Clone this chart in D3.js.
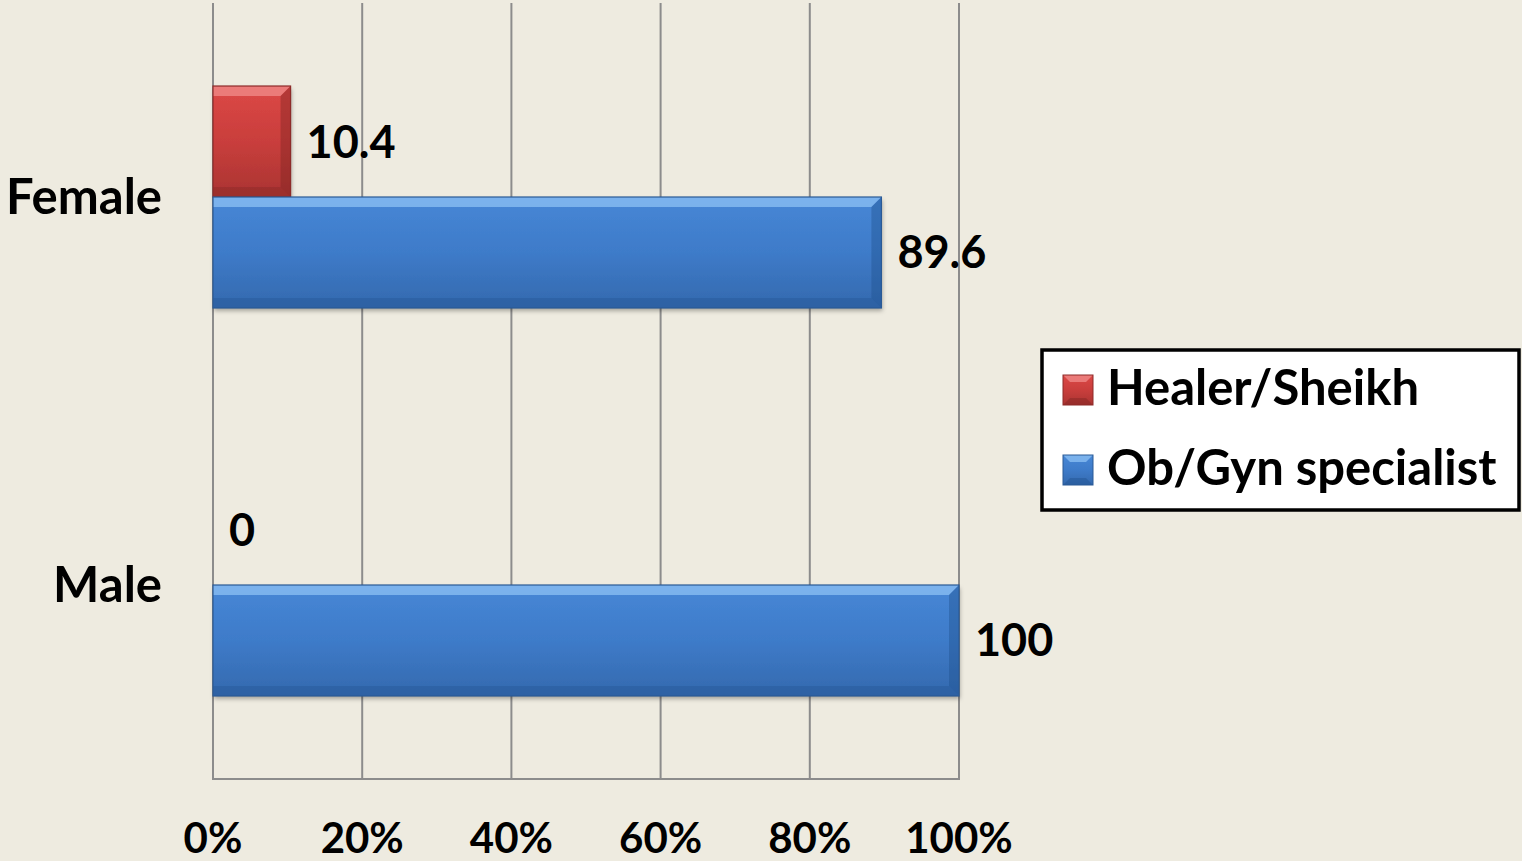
<!DOCTYPE html>
<html><head><meta charset="utf-8">
<script src="https://cdn.jsdelivr.net/npm/d3@7"></script>
<style>
html,body{margin:0;padding:0;background:#eeebe0;}
svg{display:block;}
text{font-family:Lato,"Open Sans",sans-serif;font-weight:bold;fill:#000;}
</style></head><body>
<svg id="c" width="1522" height="861"></svg>
<script>
const categories = ["Female", "Male"];
const seriesNames = ["Healer/Sheikh", "Ob/Gyn specialist"];
const healer = [10.4, 0];
const obgyn = [89.6, 100];
const xTicks = [0, 20, 40, 60, 80, 100];
const tickLabels = ["0%", "20%", "40%", "60%", "80%", "100%"];

const svg = d3.select("#c");
const W = 1522, H = 861;
const m = {left: 213, right: 563, top: 3, bottom: 82};
const x = d3.scaleLinear().domain([0, 100]).range([m.left, W - m.right]);
const y = d3.scaleBand().domain(categories).range([m.top, H - m.bottom]).paddingInner(0).paddingOuter(0);
const inner = d3.scaleBand().domain(seriesNames).range([0, y.bandwidth()]).paddingInner(0).paddingOuter(0.748);

const defs = svg.append("defs");
function grad(id, stops) {
  const g = defs.append("linearGradient").attr("id", id).attr("x1", 0).attr("y1", 0).attr("x2", 0).attr("y2", 1);
  stops.forEach(s => g.append("stop").attr("offset", s[0]).attr("stop-color", s[1]));
}
grad("gRed", [[0, "#dc4846"], [0.5, "#c93e3c"], [1, "#aa3432"]]);
grad("gBlue", [[0, "#4787d6"], [0.5, "#3e7bc9"], [1, "#3469ae"]]);
const f = defs.append("filter").attr("id", "sh").attr("x", "-5%").attr("y", "-10%").attr("width", "115%").attr("height", "130%");
f.append("feDropShadow").attr("dx", 1).attr("dy", 3).attr("stdDeviation", 2).attr("flood-color", "#000").attr("flood-opacity", 0.3);

const colors = {
  "Healer/Sheikh": {fill: "url(#gRed)", top: "#f29290", dark: "#7a2220", edge: "#8e2b29"},
  "Ob/Gyn specialist": {fill: "url(#gBlue)", top: "#92c4f7", dark: "#1f4f8c", edge: "#2a5a96"}
};

// gridlines
const gy0 = m.top, gy1 = H - m.bottom;
svg.append("g").selectAll("line").data(xTicks).join("line")
  .attr("x1", d => x(d)).attr("x2", d => x(d))
  .attr("y1", gy0).attr("y2", gy1)
  .attr("stroke", "#8c8c8c").attr("stroke-width", 2);
svg.append("line").attr("x1", x(0) - 1).attr("x2", x(100) + 1).attr("y1", gy1).attr("y2", gy1)
  .attr("stroke", "#8c8c8c").attr("stroke-width", 2);

// x axis labels
svg.append("g").selectAll("text").data(xTicks).join("text")
  .attr("x", d => x(d)).attr("y", 853)
  .attr("text-anchor", "middle").attr("font-size", 42)
  .text((d, i) => tickLabels[i]);

// category labels
svg.append("g").selectAll("text").data(categories).join("text")
  .attr("x", 162).attr("y", d => y(d) + y.bandwidth() / 2 + 17)
  .attr("text-anchor", "end").attr("font-size", 49)
  .text(d => d);

const rows = [];
categories.forEach((c, i) => {
  rows.push({cat: c, s: seriesNames[0], v: healer[i]});
  rows.push({cat: c, s: seriesNames[1], v: obgyn[i]});
});

const bars = svg.append("g");
rows.forEach(r => {
  if (r.v <= 0) return;
  const bx = x(0), by = y(r.cat) + inner(r.s), bw = x(r.v) - x(0), bh = inner.bandwidth();
  const col = colors[r.s];
  const g = bars.append("g");
  g.append("rect").attr("x", bx).attr("y", by).attr("width", bw).attr("height", bh)
    .attr("fill", col.fill).attr("filter", "url(#sh)");
  const b = 10;
  g.append("path").attr("d", `M${bx},${by} L${bx + bw},${by} L${bx + bw - b},${by + b} L${bx},${by + b} Z`)
    .attr("fill", col.top).attr("opacity", 0.7);
  g.append("path").attr("d", `M${bx + bw},${by} L${bx + bw},${by + bh} L${bx + bw - b},${by + bh - b} L${bx + bw - b},${by + b} Z`)
    .attr("fill", col.dark).attr("opacity", 0.4);
  g.append("path").attr("d", `M${bx},${by + bh} L${bx + bw},${by + bh} L${bx + bw - b},${by + bh - b} L${bx},${by + bh - b} Z`)
    .attr("fill", col.dark).attr("opacity", 0.3);
  g.append("rect").attr("x", bx).attr("y", by).attr("width", bw).attr("height", bh)
    .attr("fill", "none").attr("stroke", col.edge).attr("stroke-width", 1.2);
});

// value labels
svg.append("g").selectAll("text").data(rows).join("text")
  .attr("x", d => x(d.v) + 16)
  .attr("y", d => y(d.cat) + inner(d.s) + inner.bandwidth() / 2 + 16)
  .attr("font-size", 45)
  .text(d => d.v);

// legend
const lg = svg.append("g");
lg.append("rect").attr("x", 1042).attr("y", 350).attr("width", 477).attr("height", 160)
  .attr("fill", "#fff").attr("stroke", "#000").attr("stroke-width", 3.5);
seriesNames.forEach((s, i) => {
  const ly = 375 + i * 80;
  const col = colors[s];
  const gg = lg.append("g");
  gg.append("rect").attr("x", 1063).attr("y", ly).attr("width", 30).attr("height", 30).attr("fill", col.fill);
  gg.append("path").attr("d", `M1063,${ly} L1093,${ly} L1086,${ly + 7} L1070,${ly + 7} Z`).attr("fill", col.top).attr("opacity", 0.7);
  gg.append("path").attr("d", `M1063,${ly + 30} L1093,${ly + 30} L1086,${ly + 23} L1070,${ly + 23} Z`).attr("fill", col.dark).attr("opacity", 0.4);
  gg.append("rect").attr("x", 1063).attr("y", ly).attr("width", 30).attr("height", 30).attr("fill", "none").attr("stroke", col.edge).attr("stroke-width", 1);
  lg.append("text").attr("x", 1107).attr("y", ly + 30).attr("font-size", 49).text(s);
});
</script>
</body></html>
